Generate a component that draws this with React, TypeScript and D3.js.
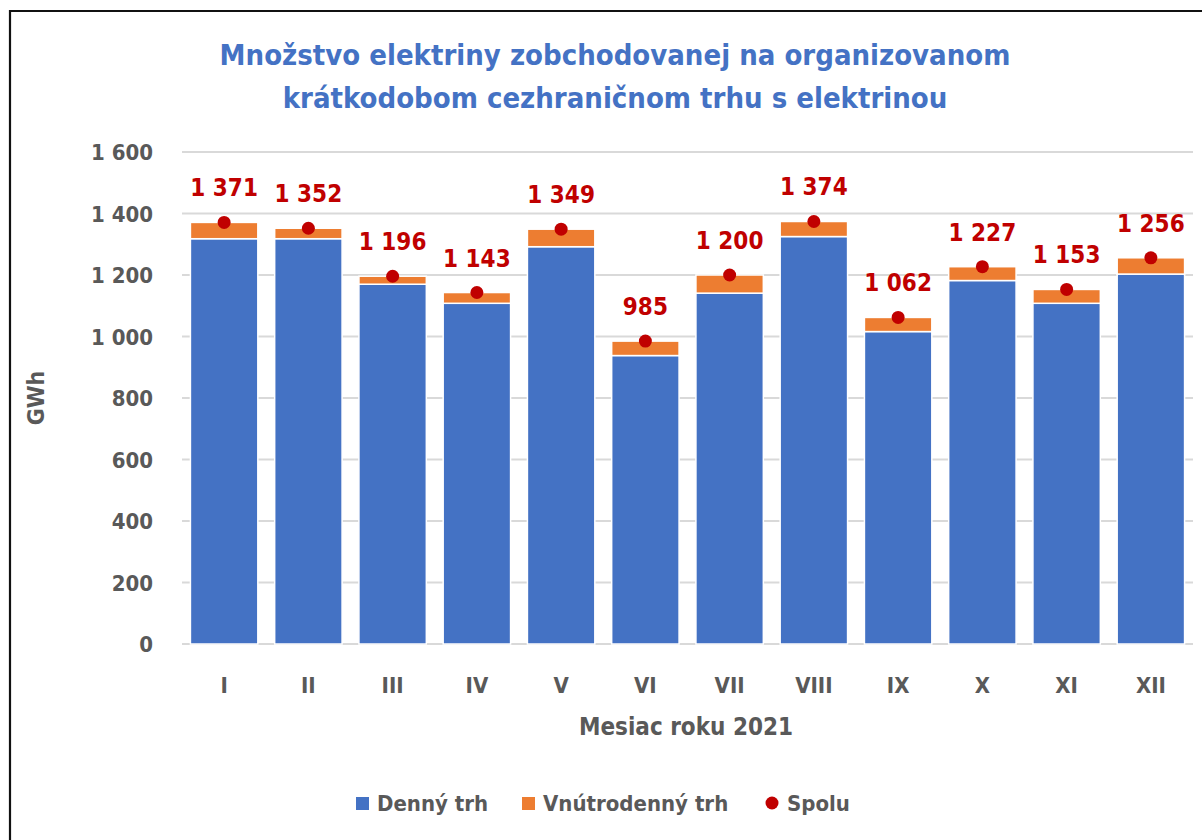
import * as d3 from "d3";

const months = ["I", "II", "III", "IV", "V", "VI", "VII", "VIII", "IX", "X", "XI", "XII"];
const dennyTrh = [1318, 1318, 1170, 1108, 1292, 938, 1141, 1325, 1016, 1182, 1108, 1203];
const vnutrodennyTrh = [53, 34, 26, 35, 57, 47, 59, 49, 46, 45, 45, 53];
const spolu = [1371, 1352, 1196, 1143, 1349, 985, 1200, 1374, 1062, 1227, 1153, 1256];
const yTicks = [0, 200, 400, 600, 800, 1000, 1200, 1400, 1600];

const FONT = "'Liberation Sans Narrow', 'DejaVu Sans Condensed', 'Open Sans', sans-serif";
const BLUE = "#4472c4";
const ORANGE = "#ed7d31";
const RED = "#c00000";
const GREY = "#595959";

const fmt = (v: number) => d3.format(",")(v).replace(/,/g, " ");

export default function App() {
  const width = 1202;
  const height = 840;
  const left = 182;
  const right = 1193;
  const top = 152;
  const bottom = 644;

  const x = d3.scaleBand().domain(months).range([left, right]).paddingInner(0.2).paddingOuter(0.1);
  const y = d3.scaleLinear().domain([0, 1600]).range([bottom, top]);

  const rows = months.map((m, i) => ({ m, a: dennyTrh[i], b: vnutrodennyTrh[i], t: spolu[i] }));

  return (
    <svg width={width} height={height} style={{ position: "absolute", left: 0, top: 0 }} fontFamily={FONT}>
      <rect x={0} y={0} width={width} height={height} fill="white" />
      <path d={`M10,${height} V11 H${width}`} fill="none" stroke="#111" strokeWidth={2.2} />

      <g fill={BLUE} fontWeight="bold" fontSize={29} textAnchor="middle">
        <text x={615} y={65}>Množstvo elektriny zobchodovanej na organizovanom</text>
        <text x={615} y={108}>krátkodobom cezhraničnom trhu s elektrinou</text>
      </g>

      {yTicks.map((t) => (
        <g key={t}>
          <line x1={left} x2={right} y1={y(t)} y2={y(t)} stroke="#d9d9d9" strokeWidth={2} />
          <text x={153} y={y(t) + 8} textAnchor="end" fontSize={22} fontWeight="bold" fill={GREY}>
            {fmt(t)}
          </text>
        </g>
      ))}

      <text transform="translate(44,398) rotate(-90)" textAnchor="middle" fontSize={23} fontWeight="bold" fill={GREY}>
        GWh
      </text>

      {rows.map((r) => (
        <g key={r.m}>
          <rect x={x(r.m)} y={y(r.a)} width={x.bandwidth()} height={y(0) - y(r.a)} fill={BLUE} stroke="white" strokeWidth={1.5} />
          <rect x={x(r.m)} y={y(r.a + r.b)} width={x.bandwidth()} height={y(r.a) - y(r.a + r.b)} fill={ORANGE} stroke="white" strokeWidth={1.5} />
        </g>
      ))}

      {rows.map((r) => {
        const cx = (x(r.m) as number) + x.bandwidth() / 2;
        return (
          <g key={"s" + r.m}>
            <circle cx={cx} cy={y(r.t)} r={6.5} fill={RED} />
            <text x={cx} y={y(r.t) - 26} textAnchor="middle" fontSize={24} fontWeight="bold" fill={RED}>
              {fmt(r.t)}
            </text>
          </g>
        );
      })}

      {months.map((m) => (
        <text key={"x" + m} x={(x(m) as number) + x.bandwidth() / 2} y={693} textAnchor="middle" fontSize={22} fontWeight="bold" fill={GREY}>
          {m}
        </text>
      ))}

      <text x={686} y={735} textAnchor="middle" fontSize={24} fontWeight="bold" fill={GREY}>
        Mesiac roku 2021
      </text>

      <g fontSize={22} fontWeight="bold" fill={GREY}>
        <rect x={356} y={797} width={13} height={13} fill={BLUE} />
        <text x={377} y={811}>Denný trh</text>
        <rect x={522} y={797} width={13} height={13} fill={ORANGE} />
        <text x={543} y={811}>Vnútrodenný trh</text>
        <circle cx={772} cy={803} r={6.5} fill={RED} />
        <text x={787} y={811}>Spolu</text>
      </g>
    </svg>
  );
}
